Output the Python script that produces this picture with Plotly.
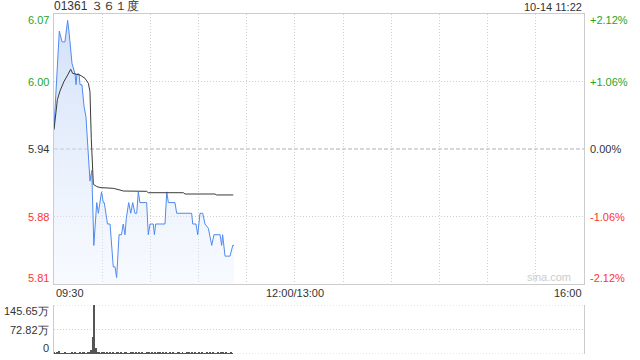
import plotly.graph_objects as go

# ---------------- data ----------------
prev_close = 5.94
title_text = "01361 ３６１度"
time_text = "10-14 11:22"

# minutes since 09:30 (trading minutes, 330 per day)
price_minutes = [0, 3.3, 5.0, 6.8, 8.5, 9.3, 11.2, 13.1, 13.7, 14.3, 15.6, 16.2, 17.4, 18.7, 19.9,
                 22.4, 23.5, 24.8, 26.6, 27.6, 29.6, 30.7, 31.3, 32.1, 33.3, 34.9, 35.9, 36.9, 38.0,
                 39.0, 40.5, 42.0, 43.1, 44.2, 45.0, 46.5, 47.8, 49.0, 50.4, 51.5, 52.5, 53.5, 57.7,
                 58.7, 59.8, 61.8, 62.5, 63.3, 69.1, 70.2, 71.2, 75.3, 76.4, 85.7, 86.4, 88.4, 89.5,
                 90.9, 92.6, 94.0, 96.1, 98.2, 99.6, 103.4, 104.4, 105.0, 106.5, 109.6, 111.3, 112.1]
prices = [5.96, 6.05, 6.04, 6.04, 6.06, 6.05, 6.02, 6.01, 6.00, 6.01, 6.01, 6.00, 6.00, 5.98, 5.97,
          5.91, 5.92, 5.85, 5.89, 5.88, 5.90, 5.89, 5.89, 5.88, 5.87, 5.87, 5.85, 5.83, 5.83,
          5.82, 5.86, 5.86, 5.87, 5.86, 5.875, 5.89, 5.88, 5.89, 5.88, 5.88, 5.90, 5.89, 5.89,
          5.86, 5.87, 5.87, 5.86, 5.87, 5.87, 5.90, 5.89, 5.89, 5.88, 5.88, 5.87, 5.87, 5.86,
          5.88, 5.88, 5.87, 5.866, 5.85, 5.86, 5.86, 5.85, 5.86, 5.84, 5.84, 5.85, 5.85]

avg_minutes = [0, 2.1, 3.7, 6.2, 8.5, 10.4, 11.6, 16.2, 19.3, 21.4, 22.4, 23.2, 24.5, 26.6, 28.6,
               36.9, 41.1, 43.1, 57.7, 58.7, 80.5, 81.6, 100.2, 101.3, 111.6]
avg_prices = [5.958, 5.986, 5.994, 6.003, 6.009, 6.0144, 6.0106, 6.009, 6.006, 6.0013, 5.9935, 5.950,
              5.907, 5.905, 5.904, 5.9033, 5.9017, 5.9008, 5.9005, 5.8992, 5.8992, 5.898, 5.898,
              5.8971, 5.8971]

vol_minutes = list(range(112))
volumes = [5, 2, 3, 9, 2, 1, 2, 3, 2, 2,
           1, 6, 2, 3, 2, 2, 3, 2, 4, 3,
           2, 3, 3, 12, 51, 145.65, 19, 3, 4, 2,
           5, 3, 2, 6, 2, 3, 2, 4, 2, 3,
           5, 2, 3, 2, 4, 3, 2, 2, 5, 3,
           2, 3, 2, 4, 2, 3, 2, 2, 3, 5,
           2, 3, 2, 4, 2, 3, 3, 2, 4, 2,
           3, 2, 5, 2, 3, 2, 2, 4, 3, 2,
           3, 2, 2, 3, 4, 2, 3, 2, 3, 2,
           5, 2, 3, 2, 2, 3, 2, 4, 2, 3,
           2, 2, 3, 2, 3, 4, 2, 3, 2, 2,
           3, 2]

price_ticks = [6.066, 6.003, 5.94, 5.877, 5.814]
price_labels = ["6.07", "6.00", "5.94", "5.88", "5.81"]
pct_labels = ["+2.12%", "+1.06%", "0.00%", "-1.06%", "-2.12%"]
label_colors = ["#1fa61f", "#1fa61f", "#333333", "#ff3333", "#ff3333"]

vol_ticks = [145.65, 72.82, 0]
vol_labels = ["145.65万", "72.82万", "0"]

x_grid = [30, 60, 90, 120, 150, 180, 210, 240, 270, 300]
x_labels = [(0, "09:30", "left"), (150, "12:00/13:00", "center"), (330, "16:00", "right")]

# ---------------- figure ----------------
FONT = "Liberation Sans, Arial, sans-serif"
GRID = "#d0d0d0"
BORDER = "#cccccc"

fig = go.Figure()

fig.add_trace(go.Scatter(
    x=price_minutes, y=prices, mode="lines",
    line=dict(color="#4f8bf0", width=1),
    fill="tozeroy",
    fillgradient=dict(type="vertical", start=5.814, stop=6.066,
                      colorscale=[[0, "rgba(225,235,252,0.25)"], [1, "rgba(200,218,248,0.85)"]]),
    xaxis="x", yaxis="y", hoverinfo="skip", showlegend=False))

fig.add_trace(go.Scatter(
    x=avg_minutes, y=avg_prices, mode="lines",
    line=dict(color="#3a3a3a", width=1),
    xaxis="x", yaxis="y", hoverinfo="skip", showlegend=False))

fig.add_trace(go.Bar(
    x=vol_minutes, y=volumes, width=0.6,
    marker=dict(color="#555555", line=dict(width=0)),
    xaxis="x2", yaxis="y2", hoverinfo="skip", showlegend=False))

top_dom = [0.2059, 1.0]
vol_dom = [0.0, 0.1441]

fig.update_layout(
    width=640, height=360,
    margin=dict(l=54, r=56, t=14, b=6),
    paper_bgcolor="white", plot_bgcolor="white",
    font=dict(family=FONT, size=11, color="#333333"),
    bargap=0,
    xaxis=dict(domain=[0, 1], range=[0, 330], anchor="y",
               tickvals=x_grid, showticklabels=False, ticks="",
               showgrid=True, gridcolor=GRID, griddash="1px,2px", gridwidth=1,
               zeroline=False, showline=True, linecolor=BORDER, linewidth=1, mirror=True),
    yaxis=dict(domain=top_dom, range=[5.814, 6.066], anchor="x",
               tickvals=[6.003, 5.877], showticklabels=False, ticks="",
               showgrid=True, gridcolor=GRID, griddash="1px,2px", gridwidth=1,
               zeroline=False, showline=True, linecolor=BORDER, linewidth=1, mirror=True),
    xaxis2=dict(domain=[0, 1], range=[0, 330], anchor="y2",
                showticklabels=False, ticks="", showgrid=False, zeroline=False, showline=False),
    yaxis2=dict(domain=vol_dom, range=[0, 145.65], anchor="x2",
                tickvals=[72.82], showticklabels=False, ticks="",
                showgrid=True, gridcolor=GRID, griddash="1px,2px", gridwidth=1,
                zeroline=False, showline=True, linecolor=BORDER, linewidth=1, mirror=True),
)

# prev close dashed line
fig.add_shape(type="line", xref="x domain", yref="y", x0=0, x1=1, y0=prev_close, y1=prev_close,
              line=dict(color="#b0b0b0", width=1, dash="4px,2px"), layer="below")
# volume top / bottom dotted borders
for yv in [0, 145.65]:
    fig.add_shape(type="line", xref="x2 domain", yref="y2", x0=0, x1=1, y0=yv, y1=yv,
                  line=dict(color=GRID, width=1, dash="1px,2px"), layer="below")

annotations = []
shifts = [-6, 0, 0, 0, 6]
for v, lab, pl, col, sh in zip(price_ticks, price_labels, pct_labels, label_colors, shifts):
    annotations.append(dict(x=0, xref="x domain", y=v, yref="y", text=lab, showarrow=False,
                            xanchor="right", yanchor="middle", xshift=-3, yshift=sh,
                            font=dict(size=11, color=col, family=FONT)))
    annotations.append(dict(x=1, xref="x domain", y=v, yref="y", text=pl, showarrow=False,
                            xanchor="left", yanchor="middle", xshift=4, yshift=sh,
                            font=dict(size=11, color=col, family=FONT)))

vshifts = [-6, 0, 6]
for v, lab, sh in zip(vol_ticks, vol_labels, vshifts):
    annotations.append(dict(x=0, xref="x2 domain", y=v, yref="y2", text=lab, showarrow=False,
                            xanchor="right", yanchor="middle", xshift=-3, yshift=sh,
                            font=dict(size=11, color="#333333", family=FONT)))

for xv, lab, anc in x_labels:
    annotations.append(dict(x=xv, xref="x", y=0, yref="y domain", text=lab, showarrow=False,
                            xanchor=anc, yanchor="top", yshift=-1,
                            font=dict(size=11, color="#333333", family=FONT)))

annotations.append(dict(x=0, xref="x domain", y=1, yref="y domain", text=title_text, showarrow=False,
                        xanchor="left", yanchor="bottom", xshift=-2, yshift=-1,
                        font=dict(size=12, color="#333333", family=FONT)))
annotations.append(dict(x=1, xref="x domain", y=1, yref="y domain", text=time_text, showarrow=False,
                        xanchor="right", yanchor="bottom", yshift=-1,
                        font=dict(size=11, color="#333333", family=FONT)))
annotations.append(dict(x=0.98, xref="x domain", y=0, yref="y domain", text="sina.com", showarrow=False,
                        xanchor="right", yanchor="bottom", yshift=-1,
                        font=dict(size=11, color="#cccccc", family=FONT)))

fig.update_layout(annotations=annotations)

fig.write_html("out.html")
